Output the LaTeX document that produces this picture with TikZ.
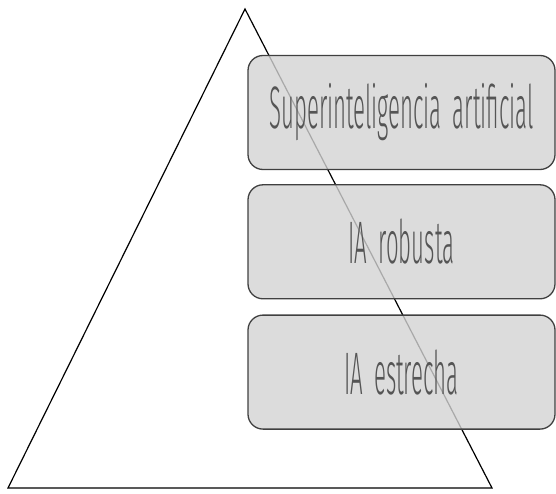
\documentclass[tikz,border=0pt]{standalone}
\usepackage{fontspec}
\setmainfont{Fira Sans}[UprightFont={* Light}, FakeStretch=0.37, WordSpace=1.8]
\usepackage{tikz}
\usetikzlibrary{positioning}
\usepackage{xcolor}
\definecolor{boxfill}{RGB}{211,211,211}
\definecolor{boxline}{RGB}{64,64,64}
\definecolor{labelcol}{RGB}{85,85,85}

\begin{document}
\begin{tikzpicture}[
    x=1pt, y=-1pt,
    levelbox/.style={draw=boxline, line width=1.3pt, fill=boxfill, fill opacity=0.8, text opacity=1,
                     rounded corners=15pt, minimum width=307pt, minimum height=114pt, inner sep=0pt,
                     font=\fontsize{60}{66}\selectfont, text=labelcol},
    edge/.style={line width=1.2pt, color=black},
]
\useasboundingbox (0,0) rectangle (556,494);

% ============ PYRAMID ============
\coordinate (apex) at (245,9);
\coordinate (baseL) at (8,488);
\coordinate (baseR) at (492,488);
\draw[edge, line join=miter] (apex) -- (baseL) -- (baseR) -- cycle;

% ============ LEVELS ============
\node[levelbox] (super) at (401.5,112.5) {Superinteligencia artificial};
\node[levelbox, below=14pt of super] (robusta) {IA robusta};
\node[levelbox, below=15pt of robusta] (estrecha) {IA estrecha};

\end{tikzpicture}
\end{document}
